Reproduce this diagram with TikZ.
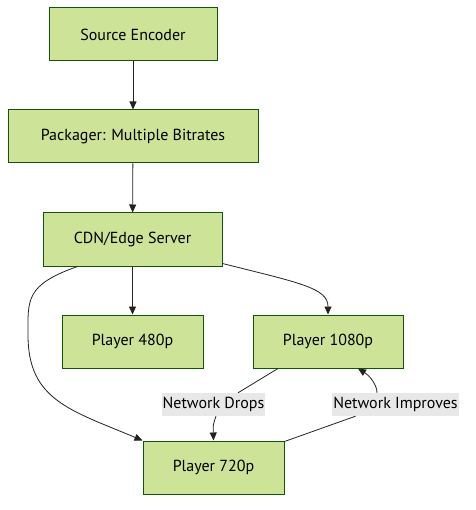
\documentclass[tikz,border=0pt]{standalone}
\usepackage{fontspec}
\setmainfont{PT Sans}
\usetikzlibrary{arrows.meta}
\definecolor{boxfill}{HTML}{CDE498}
\definecolor{boxline}{HTML}{13540C}
\definecolor{lblfill}{HTML}{E8E8E8}
\definecolor{edgeline}{HTML}{222222}
\begin{document}
\begin{tikzpicture}[x=1pt,y=-1pt,
    box/.style={draw=boxline, fill=boxfill, line width=1pt, inner sep=0pt,
      minimum height=53pt, font=\fontsize{16}{19}\selectfont},
    lbl/.style={fill=lblfill, inner sep=1pt, minimum height=23pt,
      font=\fontsize{16}{19}\selectfont},
    edge/.style={draw=edgeline, line width=0.8pt},
    tip/.style={edge, -{Triangle[length=8pt,width=7pt]}}]
  \useasboundingbox (0,0) rectangle (475,510);

  \node[box, minimum width=168pt] (enc) at (133,34.5) {Source Encoder};
  \node[box, minimum width=250pt] (pkg) at (133,136.5) {Packager: Multiple Bitrates};
  \node[box, minimum width=179pt] (cdn) at (132.5,239.5) {CDN/Edge Server};
  \node[box, minimum width=141pt] (p480) at (132.5,341.5) {Player 480p};
  \node[box, minimum width=150pt] (p1080) at (328,341.5) {Player 1080p};
  \node[box, minimum width=141pt] (p720) at (213.5,467.5) {Player 720p};

  \node[lbl] (drops) at (213.5,404.5) {Network Drops};
  \node[lbl] (improves) at (395.5,404.5) {Network Improves};

  \draw[tip] (enc) -- (pkg);
  \draw[tip] (pkg) -- (cdn);
  \draw[tip] (cdn) -- (p480);
  \draw[tip] ([yshift=3pt]cdn.south east) .. controls (300,283) and (328,288) .. (p1080.north);
  \draw[tip] ([xshift=35pt]cdn.south west) .. controls (25,285) and (28,300) .. (28,335)
    .. controls (28,400) and (70,410) .. (p720.north west);

  % switching between bitrates
  \draw[edge] ([xshift=-50pt]p1080.south) -- ([xshift=24.5pt]drops.north);
  \draw[tip] ([xshift=2.5pt]drops.south) .. controls (213,425) .. (p720.north);
  \draw[edge] ([yshift=-1pt]p720.north east) -- ([xshift=-40pt]improves.south);
  \draw[tip] ([xshift=-18.5pt]improves.north) .. controls (377,385) and (370,376) .. ([xshift=30pt]p1080.south);
\end{tikzpicture}
\end{document}
